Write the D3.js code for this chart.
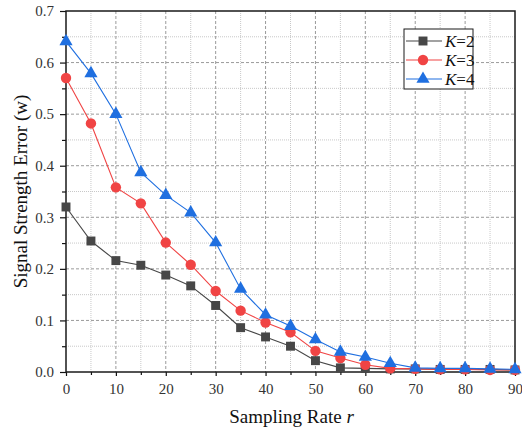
<!DOCTYPE html>
<html>
<head>
<meta charset="utf-8">
<script src="https://cdn.jsdelivr.net/npm/d3@7"></script>
<style>
  body { margin: 0; background: #fff; }
</style>
</head>
<body>
<div id="chartContainer"></div>
<script>
const rates = [0, 5, 10, 15, 20, 25, 30, 35, 40, 45, 50, 55, 60, 65, 70, 75, 80, 85, 90];
const k2 = [0.320, 0.254, 0.216, 0.207, 0.188, 0.167, 0.129, 0.086, 0.068, 0.050, 0.022, 0.008, 0.007, 0.006, 0.006, 0.005, 0.005, 0.005, 0.004];
const k3 = [0.570, 0.482, 0.358, 0.327, 0.251, 0.208, 0.157, 0.119, 0.096, 0.077, 0.041, 0.027, 0.014, 0.007, 0.006, 0.005, 0.005, 0.004, 0.004];
const k4 = [0.641, 0.579, 0.500, 0.387, 0.343, 0.309, 0.251, 0.161, 0.111, 0.089, 0.063, 0.039, 0.029, 0.017, 0.008, 0.007, 0.007, 0.006, 0.005];
const seriesNames = ['K=2', 'K=3', 'K=4'];
const xTicks = [0, 10, 20, 30, 40, 50, 60, 70, 80, 90];
const yTicks = [0, 0.1, 0.2, 0.3, 0.4, 0.5, 0.6, 0.7];

const svgWidth = 522;
const svgHeight = 429;
const margin = { top: 11, right: 7, bottom: 57, left: 66 };
const chartWidth = svgWidth - margin.left - margin.right;
const chartHeight = svgHeight - margin.top - margin.bottom;
const serif = 'Liberation Serif';

const series = [
    { name: seriesNames[0], values: k2, color: '#474747', shape: d3.symbolSquare, size: 80 },
    { name: seriesNames[1], values: k3, color: '#f04444', shape: d3.symbolCircle, size: 85 },
    { name: seriesNames[2], values: k4, color: '#1f6fe0', shape: d3.symbolTriangle, size: 75 }
];

const svg = d3.select('#chartContainer')
    .append('svg')
    .attr('width', svgWidth)
    .attr('height', svgHeight)
    .attr('font-family', serif);

const xScale = d3.scaleLinear().domain([0, 90]).range([0, chartWidth]);
const yScale = d3.scaleLinear().domain([0, 0.7]).range([chartHeight, 0]);

const chart = svg.append('g')
    .attr('transform', `translate(${margin.left}, ${margin.top})`);

// grid: minor dotted, major dashed
const xMinor = d3.range(5, 90, 10);
const yMinor = d3.range(0.05, 0.7, 0.1);
const grid = chart.append('g');
grid.selectAll('.vminor').data(xMinor).enter().append('line')
    .attr('x1', d => xScale(d)).attr('x2', d => xScale(d))
    .attr('y1', 0).attr('y2', chartHeight)
    .attr('stroke', '#c8c8c8').attr('stroke-width', 1).attr('stroke-dasharray', '1,1');
grid.selectAll('.hminor').data(yMinor).enter().append('line')
    .attr('x1', 0).attr('x2', chartWidth)
    .attr('y1', d => yScale(d)).attr('y2', d => yScale(d))
    .attr('stroke', '#c8c8c8').attr('stroke-width', 1).attr('stroke-dasharray', '1,1');
grid.selectAll('.vmajor').data(xTicks.slice(1, -1)).enter().append('line')
    .attr('x1', d => xScale(d)).attr('x2', d => xScale(d))
    .attr('y1', 0).attr('y2', chartHeight)
    .attr('stroke', '#9a9a9a').attr('stroke-width', 1).attr('stroke-dasharray', '3,2');
grid.selectAll('.hmajor').data(yTicks.slice(1, -1)).enter().append('line')
    .attr('x1', 0).attr('x2', chartWidth)
    .attr('y1', d => yScale(d)).attr('y2', d => yScale(d))
    .attr('stroke', '#9a9a9a').attr('stroke-width', 1).attr('stroke-dasharray', '3,2');

// axes
const xAxis = d3.axisBottom(xScale).tickValues(xTicks).tickSize(4).tickPadding(7).tickFormat(d3.format('d'));
const xAxisMinor = d3.axisBottom(xScale).tickValues(xMinor).tickSize(3).tickFormat('');
const yAxis = d3.axisLeft(yScale).tickValues(yTicks).tickSize(6).tickPadding(6).tickFormat(d3.format('.1f'));
const yAxisMinor = d3.axisLeft(yScale).tickValues(yMinor).tickSize(4).tickFormat('');

function styleAxis(g) {
    g.attr('font-family', serif).attr('font-size', 15);
    g.select('.domain').remove();
    g.selectAll('line').attr('stroke', '#111').attr('stroke-width', 1.2);
    g.selectAll('text').attr('fill', '#333');
}

chart.append('g').attr('transform', `translate(0, ${chartHeight})`).call(xAxis).call(styleAxis);
chart.append('g').attr('transform', `translate(0, ${chartHeight})`).call(xAxisMinor).call(styleAxis);
chart.append('g').call(yAxis).call(styleAxis);
chart.append('g').call(yAxisMinor).call(styleAxis);

// frame
chart.append('rect')
    .attr('x', 0).attr('y', 0)
    .attr('width', chartWidth).attr('height', chartHeight)
    .attr('fill', 'none').attr('stroke', '#1a1a1a').attr('stroke-width', 1.5);

// series
const line = d3.line()
    .x((d, i) => xScale(rates[i]))
    .y(d => yScale(d));

series.forEach(s => {
    chart.append('path')
        .datum(s.values)
        .attr('fill', 'none')
        .attr('stroke', s.color)
        .attr('stroke-width', 1.1)
        .attr('d', line);
    chart.selectAll(null)
        .data(s.values)
        .enter().append('path')
        .attr('transform', (d, i) => `translate(${xScale(rates[i])}, ${yScale(d)})`)
        .attr('d', d3.symbol().type(s.shape).size(s.size))
        .attr('fill', s.color);
});

// legend
const legend = svg.append('g').attr('transform', 'translate(404, 29)');
legend.append('rect')
    .attr('width', 69).attr('height', 60)
    .attr('fill', '#fff').attr('stroke', '#1a1a1a').attr('stroke-width', 1);
series.forEach((s, i) => {
    const row = legend.append('g').attr('transform', `translate(0, ${12 + i * 19})`);
    row.append('line').attr('x1', 2).attr('x2', 38).attr('y1', 0).attr('y2', 0)
        .attr('stroke', s.color).attr('stroke-width', 1.1);
    row.append('path').attr('transform', 'translate(19, 0)')
        .attr('d', d3.symbol().type(s.shape).size(s.size)).attr('fill', s.color);
    const t = row.append('text').attr('x', 41).attr('y', 5.5)
        .attr('font-size', 17).attr('fill', '#111');
    t.append('tspan').attr('font-style', 'italic').text(s.name.split('=')[0]);
    t.append('tspan').text('=' + s.name.split('=')[1]);
});

// axis titles
chart.append('text')
    .attr('x', chartWidth / 2 + 1)
    .attr('y', chartHeight + 51)
    .attr('text-anchor', 'middle')
    .attr('font-size', 19)
    .attr('fill', '#111')
    .call(t => {
        t.append('tspan').text('Sampling Rate ');
        t.append('tspan').attr('font-style', 'italic').text('r');
    });

chart.append('text')
    .attr('x', -chartHeight / 2)
    .attr('y', -margin.left + 27)
    .attr('text-anchor', 'middle')
    .attr('transform', 'rotate(-90)')
    .attr('font-size', 19)
    .attr('fill', '#111')
    .text('Signal Strength Error (w)');
</script>
</body>
</html>
